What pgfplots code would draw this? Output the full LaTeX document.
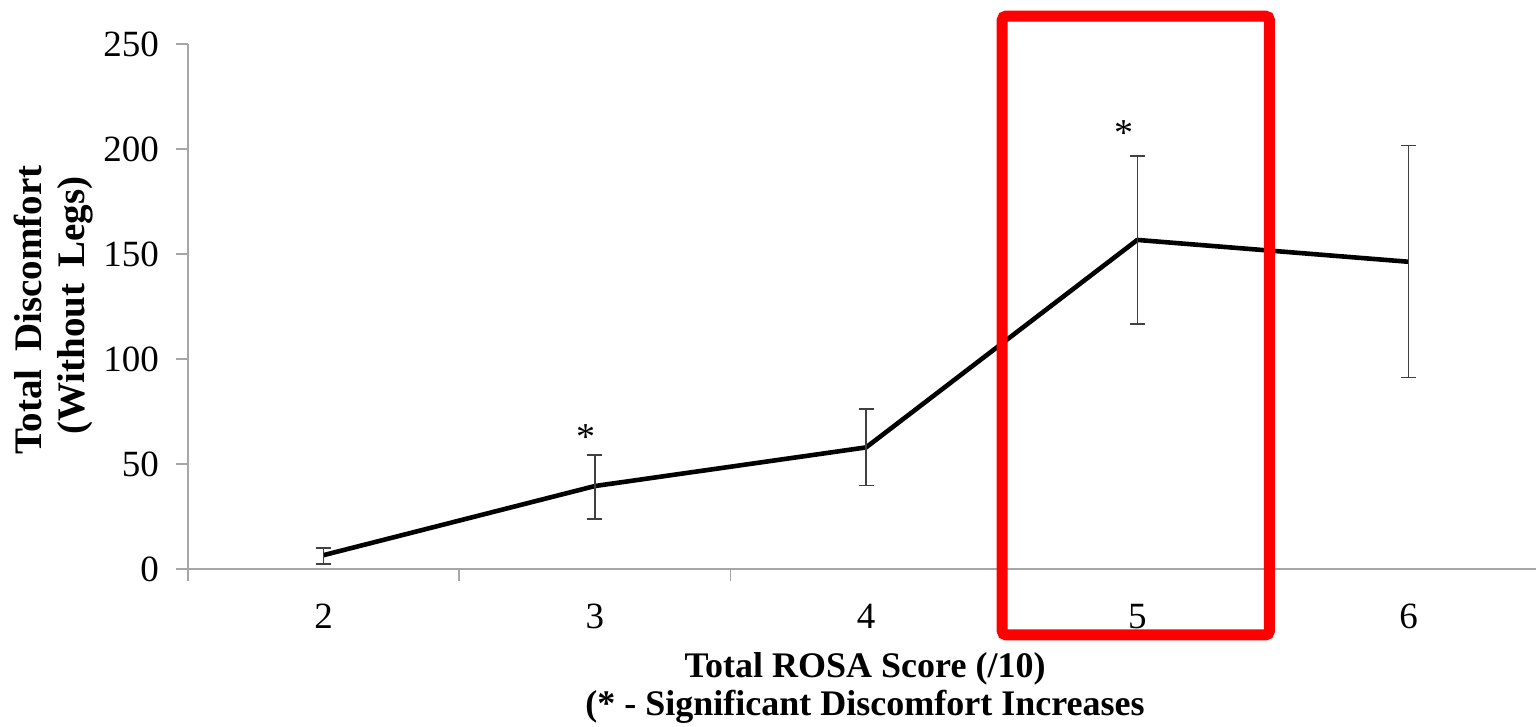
\documentclass[border=0pt]{standalone}
\usepackage{fontspec}
\setmainfont{Liberation Serif}
\usepackage{pgfplots}
\pgfplotsset{compat=1.18}
\definecolor{axgray}{HTML}{A6A6A6}
\definecolor{errgray}{HTML}{404040}
\begin{document}
\begin{tikzpicture}
\useasboundingbox (-94bp,-79bp) rectangle (674bp,284.5bp);
\begin{axis}[
  at={(0,0)}, anchor=south west,
  scale only axis, width=674bp, height=262.5bp,
  xmin=1.5, xmax=6.47, ymin=0, ymax=250,
  axis x line=bottom, axis y line=left,
  axis line style={-, draw=axgray, line width=0.8bp},
  clip=false,
  xtick={2,3,4,5,6},
  minor xtick={1.5,2.5,3.5,4.5,5.5,6.5},
  ytick={0,50,100,150,200,250},
  tick align=outside,
  major tick length=6bp, minor tick length=6bp,
  x tick style={draw=none},
  minor x tick style={draw=axgray, line width=0.8bp},
  y tick style={draw=axgray, line width=0.8bp},
  /pgf/number format/assume math mode=true,
  ticklabel style={font=\fontsize{18.5bp}{22bp}\selectfont, text=black},
  xticklabel style={yshift=-8bp},
  yticklabel style={xshift=-5bp},
]
\addplot[black, line width=2.3bp, line join=round, no marks,
  error bars/.cd, y dir=both, y explicit,
  error bar style={line width=0.8bp, draw=errgray},
  error mark options={rotate=90, mark size=3.75bp, line width=0.8bp, draw=errgray}]
coordinates {
  (2,6.6) += (0,3.5) -= (0,4.2)
  (3,39.5) += (0,14.9) -= (0,15.7)
  (4,57.9) += (0,18.3) -= (0,18.2)
  (5,156.7) += (0,40) -= (0,40)
  (6,146.3) += (0,55.3) -= (0,55.2)
};
\node[anchor=base, font=\fontsize{19bp}{22bp}\selectfont, inner sep=0pt] at (axis cs:2.967,56.7) {*};
\node[anchor=base, font=\fontsize{19bp}{22bp}\selectfont, inner sep=0pt] at (axis cs:4.952,201.9) {*};
\draw[red, line width=5.5bp, rounded corners=2bp] (axis cs:4.502,263.3) rectangle (axis cs:5.487,-31.4);
\end{axis}
\node[rotate=90, anchor=base, font=\bfseries\fontsize{19.5bp}{22bp}\selectfont, inner sep=0pt] at (-73bp,129.5bp) {Total\hspace{9bp}Discomfort};
\node[rotate=90, anchor=base, font=\bfseries\fontsize{19.5bp}{22bp}\selectfont, inner sep=0pt] at (-51.5bp,131.75bp) {(Without\hspace{8bp}Legs)};
\node[anchor=base, font=\bfseries\fontsize{18bp}{22bp}\selectfont, inner sep=0pt] at (338.5bp,-54bp) {Total ROSA Score (/10)};
\node[anchor=base, font=\bfseries\fontsize{18bp}{22bp}\selectfont, inner sep=0pt] at (338.5bp,-73bp) {(* - Significant Discomfort Increases};
\end{tikzpicture}
\end{document}
